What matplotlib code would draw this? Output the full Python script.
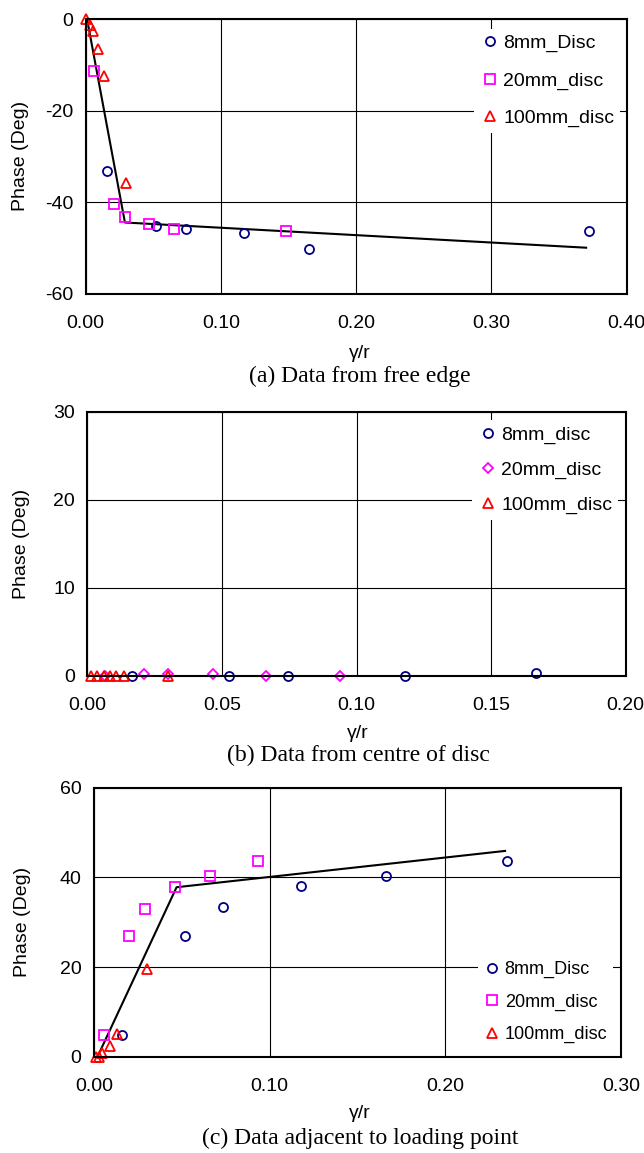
import matplotlib
matplotlib.use("Agg")
import matplotlib.pyplot as plt
from matplotlib.ticker import FormatStrFormatter

plt.rcParams['font.family'] = ['Liberation Sans', 'DejaVu Sans']
plt.rcParams['axes.unicode_minus'] = False

# (a) data from free edge
a_8mm_x = [0.0155, 0.052, 0.074, 0.117, 0.165, 0.372]
a_8mm_y = [-33.2, -45.2, -45.9, -46.8, -50.2, -46.3]
a_20mm_x = [0.0058, 0.021, 0.029, 0.0465, 0.0655, 0.148]
a_20mm_y = [-11.3, -40.3, -43.1, -44.7, -45.9, -46.3]
a_100mm_x = [0.0005, 0.0032, 0.0056, 0.0092, 0.0136, 0.0297]
a_100mm_y = [0.0, -1.3, -2.7, -6.5, -12.4, -35.8]
a_fit_x = [0.001, 0.029, 0.370]
a_fit_y = [0.0, -44.4, -49.9]

# (b) data from centre of disc
b_8mm_x = [0.0167, 0.0525, 0.0744, 0.118, 0.1665]
b_8mm_y = [0.05, 0.05, 0.05, 0.05, 0.3]
b_20mm_x = [0.0066, 0.021, 0.030, 0.0466, 0.0664, 0.094]
b_20mm_y = [0.0, 0.2, 0.2, 0.2, -0.05, -0.05]
b_100mm_x = [0.0012, 0.0035, 0.0062, 0.0085, 0.0105, 0.0135, 0.0298]
b_100mm_y = [0.0, 0.0, 0.0, 0.0, 0.0, 0.0, 0.0]

# (c) data adjacent to loading point
c_8mm_x = [0.0161, 0.0519, 0.0734, 0.1176, 0.1665, 0.235]
c_8mm_y = [4.9, 27.0, 33.3, 38.1, 40.3, 43.6]
c_20mm_x = [0.0058, 0.0199, 0.0292, 0.0463, 0.0659, 0.0931]
c_20mm_y = [4.9, 27.0, 32.9, 37.8, 40.3, 43.6]
c_100mm_x = [0.001, 0.003, 0.0044, 0.0091, 0.0131, 0.0299]
c_100mm_y = [0.0, 0.0, 0.8, 2.4, 5.0, 19.5]
c_fit_x = [0.002, 0.047, 0.234]
c_fit_y = [0.0, 37.8, 45.9]

W, H = 644, 1153
fig = plt.figure(figsize=(W / 100, H / 100), dpi=100)


def box(l, t, r, b):
    # pixel box -> figure fraction
    return [l / W, 1 - b / H, (r - l) / W, (b - t) / H]


def panel(rect, xlim, xticks, ylim, yticks):
    ax = fig.add_axes(rect)
    ax.set_xlim(xlim)
    ax.set_ylim(ylim)
    ax.set_xticks(xticks)
    ax.set_yticks(yticks)
    ax.xaxis.set_major_formatter(FormatStrFormatter('%.2f'))
    ax.tick_params(length=0, labelsize=14, pad=9)
    ax.tick_params(axis='x', pad=15)
    ax.grid(True, color='black', linewidth=0.8)
    ax.set_axisbelow(True)
    for s in ax.spines.values():
        s.set_linewidth(1.5)
        s.set_zorder(5)
    return ax


def pts(ax, x, y, marker, color, label, ms):
    ax.plot(x, y, linestyle='none', marker=marker, markersize=ms,
            markerfacecolor='none', markeredgecolor=color, markeredgewidth=1.3,
            label=label, clip_on=False, zorder=4)


def leg(ax, anchor, spacing, fs=14):
    lg = ax.legend(loc='upper left', bbox_to_anchor=anchor, fontsize=fs,
                   frameon=True, fancybox=False, edgecolor='none',
                   facecolor='white', framealpha=1, handletextpad=0.2,
                   handlelength=1.0, labelspacing=spacing, borderpad=0.3,
                   borderaxespad=0)
    lg.set_zorder(3)


navy, mag, red = '#000080', '#ff00ff', '#ff0000'

# panel (a)
ax1 = panel(box(85.7, 19, 626.7, 294), (0, 0.4), [0, 0.1, 0.2, 0.3, 0.4],
            (-60, 0), [-60, -40, -20, 0])
ax1.plot(a_fit_x, a_fit_y, color='black', linewidth=1.5, zorder=3.5)
pts(ax1, a_8mm_x, a_8mm_y, 'o', navy, '8mm_Disc', 6.5)
pts(ax1, a_20mm_x, a_20mm_y, 's', mag, '20mm_disc', 6.5)
pts(ax1, a_100mm_x, a_100mm_y, '^', red, '100mm_disc', 7.5)
leg(ax1, (0.718, 0.965), 1.0)

# panel (b)
ax2 = panel(box(87.3, 412, 625.7, 676), (0, 0.2), [0, 0.05, 0.1, 0.15, 0.2],
            (0, 30), [0, 10, 20, 30])
pts(ax2, b_8mm_x, b_8mm_y, 'o', navy, '8mm_disc', 6.5)
pts(ax2, b_20mm_x, b_20mm_y, 'D', mag, '20mm_disc', 5.5)
pts(ax2, b_100mm_x, b_100mm_y, '^', red, '100mm_disc', 7.5)
leg(ax2, (0.715, 0.97), 0.9)

# panel (c)
ax3 = panel(box(94, 787.7, 621, 1056.7), (0, 0.3), [0, 0.1, 0.2, 0.3],
            (0, 60), [0, 20, 40, 60])
ax3.plot(c_fit_x, c_fit_y, color='black', linewidth=1.5, zorder=3.5)
pts(ax3, c_8mm_x, c_8mm_y, 'o', navy, '8mm_Disc', 6.5)
pts(ax3, c_20mm_x, c_20mm_y, 's', mag, '20mm_disc', 6.5)
pts(ax3, c_100mm_x, c_100mm_y, '^', red, '100mm_disc', 7.5)
leg(ax3, (0.728, 0.375), 0.85, fs=13)

# labels and captions
for yl, xl, yc, yx, cap, yy in [
        (156, 21, 353, 360, '(a) Data from free edge', 376),
        (544, 22, 734, 358, '(b) Data from centre of disc', 755),
        (922, 23, 1114, 360, '(c) Data adjacent to loading point', 1138)]:
    fig.text(xl / W, 1 - yl / H, 'Phase (Deg)', rotation=90, fontsize=14,
             ha='center', va='center')
    fig.text(yx / W, 1 - yc / H, 'γ/r', fontsize=14, ha='center', va='center')
    fig.text(yx / W, 1 - yy / H, cap, fontsize=17, ha='center', va='center',
             family=['Liberation Serif', 'DejaVu Serif'])

fig.savefig('out.png', dpi=100)
